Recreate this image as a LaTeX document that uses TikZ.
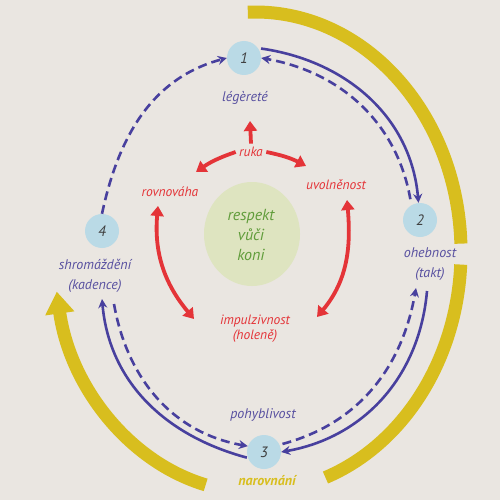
\documentclass[tikz,border=0pt]{standalone}
\usepackage{fontspec}
\setmainfont{PT Sans}
\usetikzlibrary{arrows.meta}
\definecolor{bg}{RGB}{234,230,225}
\definecolor{bl}{RGB}{72,64,158}
\definecolor{bltext}{RGB}{88,80,160}
\definecolor{nodefill}{RGB}{186,218,230}
\definecolor{rd}{RGB}{228,52,56}
\definecolor{yl}{RGB}{216,190,30}
\definecolor{gr}{RGB}{96,156,58}
\definecolor{cfill}{RGB}{222,228,192}
\begin{document}
\begin{tikzpicture}[x=1pt,y=1pt,
 num/.style={circle, fill=nodefill, minimum size=34pt, inner sep=0pt, font=\fontsize{15}{17}\selectfont\itshape, text=black!75},
 lbl/.style={font=\fontsize{14}{20}\selectfont\itshape, text=bltext, align=center},
 rlbl/.style={font=\fontsize{13.5}{14}\selectfont\itshape, text=rd, align=center},
 glbl/.style={font=\fontsize{16}{20}\selectfont\itshape, text=gr, align=center},
 solidarr/.style={draw=bl, line width=2.6pt, -{Stealth[length=9pt,width=9pt]}},
 dasharr/.style={solidarr, dash pattern=on 9pt off 5pt},
 redarr/.style={draw=rd, line width=3.8pt, -{Triangle[length=10pt,width=13pt]}},
 redboth/.style={draw=rd, line width=3.8pt, {Triangle[length=10pt,width=13pt]}-{Triangle[length=10pt,width=13pt]}},
 yband/.style={draw=yl, line width=13pt},
]
\fill[bg] (0,0) rectangle (500,-500);
\useasboundingbox (0,0) rectangle (500,-500);

% yellow bands
\draw[yband] ([shift={(92:206pt and 240pt)}]255,-252) arc[start angle=92, end angle=2, x radius=206pt, y radius=240pt];
\draw[yband] ([shift={(-3:206pt and 240pt)}]255,-252) arc[start angle=-3, end angle=-70, x radius=206pt, y radius=240pt];
\draw[yband, -{Triangle[length=22pt,width=28pt]}] ([shift={(-104:204pt and 240pt)}]255,-252) arc[start angle=-104, end angle=-170.5, x radius=200pt, y radius=240pt];

% central circle
\fill[cfill] (252,-234) ellipse[x radius=48pt, y radius=52pt];
\node[glbl] (resp) at (251,-235) {respekt\\vůči\\koni};

% numbered nodes
\node[num] (n1) at (244,-58) {1};
\node[num] (n2) at (420,-220) {2};
\node[num] (n3) at (264,-452) {3};
\node[num] (n4) at (102,-231) {4};

% labels
\node[lbl] (l1) at (245,-98) {légèreté};
\node[lbl] (l2) at (430,-264) {ohebnost\\(takt)};
\node[lbl] (l3) at (263,-415) {pohyblivost};
\node[lbl] (l4) at (95,-276) {shromáždění\\(kadence)};
\node[font=\fontsize{14}{15}\selectfont\bfseries\itshape, text=yl] (l5) at (267,-481) {narovnání};

\node[rlbl] (ruka) at (251,-152) {ruka};
\node[rlbl] (rovn) at (170,-192) {rovnováha};
\node[rlbl] (uvol) at (336,-185) {uvolněnost};
\node[rlbl, font=\fontsize{13.5}{15}\selectfont\itshape] (imp) at (255,-329) {impulzivnost\\(holeně)};

% free ends
\coordinate (c2s) at (427,-291);
\coordinate (c2d) at (416,-288);
\coordinate (c4s) at (102,-299);
\coordinate (c4d) at (114,-304);
\coordinate (rt) at (250,-121);
\coordinate (rl) at (196,-172);
\coordinate (rr) at (306,-166);
\coordinate (al) at (158,-206);
\coordinate (ab) at (194,-319);
\coordinate (ar) at (347,-200);
\coordinate (abr) at (317,-317);

% blue connectors
\draw[dasharr] (n4.north) to[out=78, in=195] (n1.west);
\draw[solidarr, shorten <=3pt] (n1.35) to[out=-8, in=95] (n2.95);
\draw[dasharr, shorten <=6pt] (n2.120) to[out=100, in=-10] (n1.east);
\draw[solidarr] (c2s) to[out=-95, in=10] (n3.east);
\draw[dasharr, shorten <=3pt] (n3.25) to[out=15, in=-100] (c2d);
\draw[solidarr, shorten <=1pt] (n3.200) to[out=165, in=-85] (c4s);
\draw[dasharr] (c4d) to[out=-80, in=170] (n3.160);

% red arrows
\draw[redarr] (ruka.north) -- (rt);
\draw[redarr] (ruka.west) to[bend right=8] (rl);
\draw[redarr] (ruka.east) to[bend left=8] (rr);
\draw[redboth] (al) to[out=-95, in=130] (ab);
\draw[redboth] (ar) to[out=-85, in=50] (abr);
\end{tikzpicture}
\end{document}
